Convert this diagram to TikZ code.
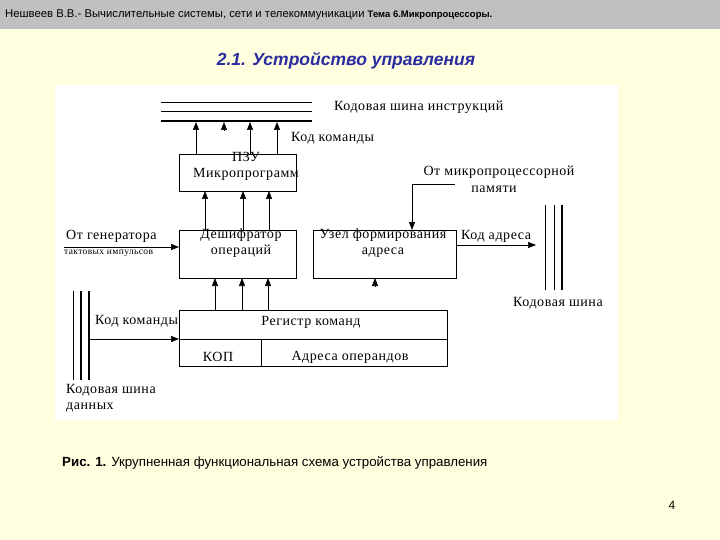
\documentclass[tikz,border=0pt]{standalone}
\usepackage{fontspec}
\setmainfont{Liberation Serif}[LetterSpace=4]
\newfontfamily\hsans{Liberation Sans}
\usetikzlibrary{arrows.meta}
\definecolor{bgy}{HTML}{FFFFE0}
\definecolor{hdr}{HTML}{C0C0C0}
\definecolor{ttl}{HTML}{2B2BA0}
\begin{document}
\begin{tikzpicture}[x=1pt,y=-1pt,
  blk/.style={draw,line width=0.7pt,inner sep=0pt},
  lbl/.style={font=\fontsize{14}{16}\selectfont,inner sep=0pt},
  tiny/.style={font=\fontsize{9.5}{10}\selectfont,inner sep=0pt},
  arr/.style={-{Triangle[length=8pt,width=6pt]},line width=0.6pt},
  bus/.style={line width=1pt}]
\useasboundingbox (0,0) rectangle (720,540);
\fill[bgy] (0,0) rectangle (720,540);
\fill[hdr] (0,0) rectangle (720,29);
\fill[white] (55,85) rectangle (618,420);
\node[anchor=west,inner sep=0pt,font=\hsans\fontsize{11.3}{13}\selectfont] (hd) at (5,15) {Нешвеев В.В.- Вычислительные системы, сети и телекоммуникации \textbf{\fontsize{9.5}{11}\selectfont Тема 6.Микропроцессоры.}};
\node[inner sep=0pt,text=ttl,font=\hsans\bfseries\itshape\fontsize{17.5}{19}\selectfont] (tt) at (346,61) {2.1. Устройство управления};
% instruction bus
\coordinate (b1a) at (161,103); \coordinate (b1b) at (312,103);
\coordinate (b2a) at (161,112); \coordinate (b2b) at (312,112);
\coordinate (b3a) at (161,121); \coordinate (b3b) at (312,121);
\draw[bus] (b1a) -- (b1b); \draw[bus] (b2a) -- (b2b); \draw[line width=2.5pt] (b3a) -- (b3b);
\node[lbl,anchor=west] (ib) at (334,107) {Кодовая шина инструкций};
% boxes
\node[blk,minimum width=117pt,minimum height=37pt] (rom) at (237.5,172.5) {};
\node[lbl,align=center] (romt) at (246,166) {ПЗУ\\Микропрограмм};
\node[blk,minimum width=117pt,minimum height=48pt] (dec) at (237.5,254) {};
\node[lbl,align=center] (dect) at (241,243) {Дешифратор\\операций};
\node[blk,minimum width=143pt,minimum height=48pt] (adr) at (384.5,254) {};
\node[lbl,align=center] (adrt) at (383,243) {Узел формирования\\адреса};
\node[blk,minimum width=268pt,minimum height=56pt] (reg) at (313,338) {};
\coordinate (rl) at (179,339); \coordinate (rr) at (447,339);
\coordinate (vt) at (261,339); \coordinate (vb) at (261,366);
\draw[line width=0.7pt] (rl) -- (rr); \draw[line width=0.7pt] (vt) -- (vb);
\node[lbl] (regt) at (311,322) {Регистр команд};
\node[lbl] (kop) at (218,357) {КОП};
\node[lbl] (ops) at (350,357) {Адреса операндов};
% ROM -> bus
\foreach \x/\n in {196/a,250/c,277/d}{
  \coordinate (rs\n) at (\x,154); \coordinate (re\n) at (\x,122);
  \draw[arr] (rs\n) -- (re\n);}
\coordinate (rsb) at (224,130); \coordinate (reb) at (224,122);
\draw[arr] (rsb) -- (reb);
\node[lbl,anchor=west] (kk1) at (291,138) {Код команды};
% dec -> ROM
\foreach \x/\n in {205/a,243/b,269/c}{
  \coordinate (ds\n) at (\x,230); \coordinate (de\n) at (\x,191);
  \draw[arr] (ds\n) -- (de\n);}
% reg -> dec
\foreach \x/\n in {215/a,242/b,268/c}{
  \coordinate (gs\n) at (\x,310); \coordinate (ge\n) at (\x,278);
  \draw[arr] (gs\n) -- (ge\n);}
\coordinate (as) at (375,286); \coordinate (ae) at (375,278);
\draw[arr] (as) -- (ae);
% generator
\node[lbl,anchor=west] (gen1) at (66,236) {От генератора};
\node[tiny,anchor=west] (gen2) at (64,253) {тактовых импульсов};
\coordinate (gna) at (64,247); \coordinate (gnb) at (179,247);
\draw[arr] (gna) -- (gnb);
% memory
\node[lbl] (mem1) at (499,172) {От микропроцессорной};
\node[lbl] (mem2) at (494,189) {памяти};
\coordinate (m1) at (455,184); \coordinate (m2) at (412,184); \coordinate (m3) at (412,230);
\draw[arr] (m1) -- (m2) -- (m3);
% address code
\node[lbl,anchor=west] (kadr) at (461,236) {Код адреса};
\coordinate (ka0) at (456,245); \coordinate (ka) at (536,245);
\draw[arr] (ka0) -- (ka);
\foreach \x/\w in {545/1pt,554/1pt,562/2pt}{
  \coordinate (t\x) at (\x,205); \coordinate (u\x) at (\x,290);
  \draw[line width=\w] (t\x) -- (u\x);}
\node[lbl,anchor=west] (rb) at (513,303) {Кодовая шина};
% data bus
\foreach \x/\w in {73/1pt,81/1.5pt,89/2pt}{
  \coordinate (p\x) at (\x,291); \coordinate (q\x) at (\x,380);
  \draw[line width=\w] (p\x) -- (q\x);}
\node[lbl,anchor=west] (kk2) at (95,321) {Код команды};
\coordinate (dsa) at (89,339); \coordinate (dsb) at (179,339);
\draw[arr] (dsa) -- (dsb);
\node[lbl,anchor=west,align=left] (db) at (66,398) {Кодовая шина\\данных};
% caption
\node[anchor=west,inner sep=0pt,font=\hsans\fontsize{13.3}{15}\selectfont] (cap) at (62,463) {\textbf{Рис. 1.} Укрупненная функциональная схема устройства управления};
\node[inner sep=0pt,font=\hsans\fontsize{12}{13}\selectfont] (pg) at (672,505) {4};
\end{tikzpicture}
\end{document}
